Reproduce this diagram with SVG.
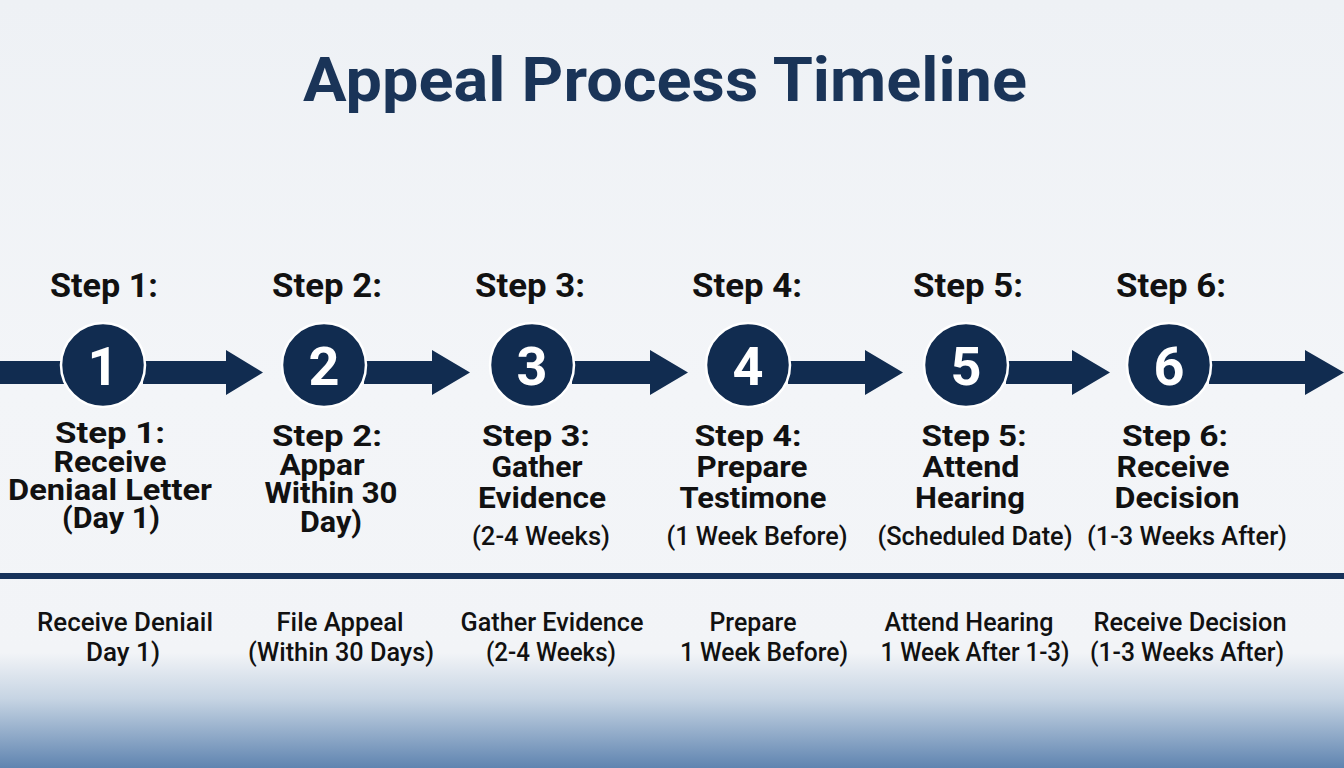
<svg xmlns="http://www.w3.org/2000/svg" width="1344" height="768" viewBox="0 0 1344 768">
<defs>
<linearGradient id="bg" x1="0" y1="0" x2="0" y2="1">
<stop offset="0" stop-color="#eef1f5"/>
<stop offset="0.5" stop-color="#f3f5f8"/>
<stop offset="0.85" stop-color="#f2f4f7"/>
<stop offset="0.91" stop-color="#c6d4e3"/>
<stop offset="1" stop-color="#5f84b0"/>
</linearGradient>
</defs>
<style>
.title{font-family:Roboto,"Liberation Sans",sans-serif;font-weight:700;font-size:62px;fill:#1a3458;text-anchor:middle}
.top{font-family:Roboto,"Liberation Sans",sans-serif;font-weight:700;font-size:33px;fill:#111;text-anchor:middle}
.lbl{font-family:Roboto,"Liberation Sans",sans-serif;font-weight:700;font-size:29px;fill:#111;text-anchor:middle}
.sub{font-family:Roboto,"Liberation Sans",sans-serif;font-weight:500;font-size:25px;fill:#111;text-anchor:middle}
.bot{font-family:Roboto,"Liberation Sans",sans-serif;font-weight:500;font-size:25px;fill:#111;text-anchor:middle}
.circ{fill:#112c50;stroke:#ffffff;stroke-width:2.5}
.num{font-family:Roboto,"Liberation Sans",sans-serif;font-weight:700;font-size:54px;fill:#fff;text-anchor:middle}
.arr{fill:#112c50}
</style>
<rect width="1344" height="768" fill="url(#bg)"/>
<text class="title" x="665" y="101" textLength="724" lengthAdjust="spacingAndGlyphs">Appeal Process Timeline</text>

<g id="connectors">
<rect class="arr" x="0" y="361" width="64" height="23"/>
<path class="arr" d="M143 361 H226 V350 L263 372.5 L226 395 V384 H143 Z"/>
<path class="arr" d="M364 361 H432 V350 L470 372.5 L432 395 V384 H364 Z"/>
<path class="arr" d="M572 361 H650 V350 L688 372.5 L650 395 V384 H572 Z"/>
<path class="arr" d="M788 361 H865 V350 L903 372.5 L865 395 V384 H788 Z"/>
<path class="arr" d="M1006 361 H1072 V350 L1110 372.5 L1072 395 V384 H1006 Z"/>
<path class="arr" d="M1209 361 H1305 V350 L1344 372.5 L1305 395 V384 H1209 Z"/>
<rect x="0" y="573" width="1344" height="6" fill="#16325a"/>
</g>

<g id="step1">
<text class="top" x="104" y="297" textLength="108" lengthAdjust="spacingAndGlyphs">Step 1:</text>
<circle class="circ" cx="103" cy="365" r="42"/>
<text class="num" x="103" y="385">1</text>
<text class="lbl" x="110" y="443" textLength="110" lengthAdjust="spacingAndGlyphs">Step 1:</text>
<text class="lbl" x="110" y="472" textLength="113" lengthAdjust="spacingAndGlyphs">Receive</text>
<text class="lbl" x="110" y="500" textLength="204" lengthAdjust="spacingAndGlyphs">Deniaal Letter</text>
<text class="lbl" x="111" y="528" textLength="98" lengthAdjust="spacingAndGlyphs">(Day 1)</text>
<text class="bot" x="125" y="631" textLength="176" lengthAdjust="spacingAndGlyphs">Receive Deniail</text>
<text class="bot" x="123" y="661" textLength="74" lengthAdjust="spacingAndGlyphs">Day 1)</text>
</g>

<g id="step2">
<text class="top" x="327" y="297" textLength="110" lengthAdjust="spacingAndGlyphs">Step 2:</text>
<circle class="circ" cx="324" cy="365" r="42"/>
<text class="num" x="324" y="385">2</text>
<text class="lbl" x="327" y="446" textLength="110" lengthAdjust="spacingAndGlyphs">Step 2:</text>
<text class="lbl" x="322" y="475" textLength="85" lengthAdjust="spacingAndGlyphs">Appar</text>
<text class="lbl" x="331" y="503" textLength="133" lengthAdjust="spacingAndGlyphs">Within 30</text>
<text class="lbl" x="331" y="532" textLength="62" lengthAdjust="spacingAndGlyphs">Day)</text>
<text class="bot" x="340" y="631" textLength="127" lengthAdjust="spacingAndGlyphs">File Appeal</text>
<text class="bot" x="341" y="661" textLength="186" lengthAdjust="spacingAndGlyphs">(Within 30 Days)</text>
</g>

<g id="step3">
<text class="top" x="530" y="297" textLength="110" lengthAdjust="spacingAndGlyphs">Step 3:</text>
<circle class="circ" cx="532" cy="365" r="42"/>
<text class="num" x="532" y="385">3</text>
<text class="lbl" x="536" y="446" textLength="108" lengthAdjust="spacingAndGlyphs">Step 3:</text>
<text class="lbl" x="537" y="477" textLength="91" lengthAdjust="spacingAndGlyphs">Gather</text>
<text class="lbl" x="542" y="508" textLength="128" lengthAdjust="spacingAndGlyphs">Evidence</text>
<text class="sub" x="541" y="545" textLength="138" lengthAdjust="spacingAndGlyphs">(2-4 Weeks)</text>
<text class="bot" x="552" y="631" textLength="183" lengthAdjust="spacingAndGlyphs">Gather Evidence</text>
<text class="bot" x="551" y="661" textLength="130" lengthAdjust="spacingAndGlyphs">(2-4 Weeks)</text>
</g>

<g id="step4">
<text class="top" x="747" y="297" textLength="110" lengthAdjust="spacingAndGlyphs">Step 4:</text>
<circle class="circ" cx="748" cy="365" r="42"/>
<text class="num" x="748" y="385">4</text>
<text class="lbl" x="748" y="446" textLength="107" lengthAdjust="spacingAndGlyphs">Step 4:</text>
<text class="lbl" x="752" y="477" textLength="111" lengthAdjust="spacingAndGlyphs">Prepare</text>
<text class="lbl" x="753" y="508" textLength="147" lengthAdjust="spacingAndGlyphs">Testimone</text>
<text class="sub" x="757" y="545" textLength="181" lengthAdjust="spacingAndGlyphs">(1 Week Before)</text>
<text class="bot" x="753" y="631" textLength="87" lengthAdjust="spacingAndGlyphs">Prepare</text>
<text class="bot" x="764" y="661" textLength="168" lengthAdjust="spacingAndGlyphs">1 Week Before)</text>
</g>

<g id="step5">
<text class="top" x="968" y="297" textLength="110" lengthAdjust="spacingAndGlyphs">Step 5:</text>
<circle class="circ" cx="966" cy="365" r="42"/>
<text class="num" x="966" y="385">5</text>
<text class="lbl" x="974" y="446" textLength="105" lengthAdjust="spacingAndGlyphs">Step 5:</text>
<text class="lbl" x="971" y="477" textLength="97" lengthAdjust="spacingAndGlyphs">Attend</text>
<text class="lbl" x="970" y="508" textLength="110" lengthAdjust="spacingAndGlyphs">Hearing</text>
<text class="sub" x="975" y="545" textLength="195" lengthAdjust="spacingAndGlyphs">(Scheduled Date)</text>
<text class="bot" x="969" y="631" textLength="169" lengthAdjust="spacingAndGlyphs">Attend Hearing</text>
<text class="bot" x="975" y="661" textLength="189" lengthAdjust="spacingAndGlyphs">1 Week After 1-3)</text>
</g>

<g id="step6">
<text class="top" x="1171" y="297" textLength="110" lengthAdjust="spacingAndGlyphs">Step 6:</text>
<circle class="circ" cx="1169" cy="365" r="42"/>
<text class="num" x="1169" y="385">6</text>
<text class="lbl" x="1175" y="446" textLength="106" lengthAdjust="spacingAndGlyphs">Step 6:</text>
<text class="lbl" x="1173" y="477" textLength="113" lengthAdjust="spacingAndGlyphs">Receive</text>
<text class="lbl" x="1177" y="508" textLength="125" lengthAdjust="spacingAndGlyphs">Decision</text>
<text class="sub" x="1187" y="545" textLength="200" lengthAdjust="spacingAndGlyphs">(1-3 Weeks After)</text>
<text class="bot" x="1190" y="631" textLength="193" lengthAdjust="spacingAndGlyphs">Receive Decision</text>
<text class="bot" x="1187" y="661" textLength="194" lengthAdjust="spacingAndGlyphs">(1-3 Weeks After)</text>
</g>
</svg>
